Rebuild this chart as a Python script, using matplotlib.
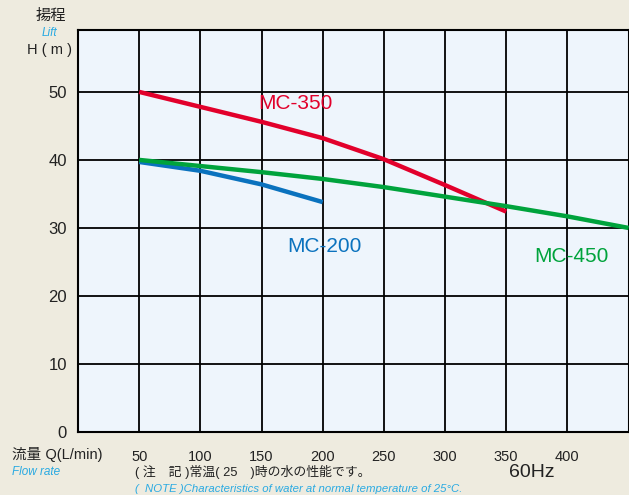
import matplotlib.pyplot as plt

plt.rcParams['font.family'] = ['Liberation Sans', 'Noto Sans CJK JP', 'DejaVu Sans']

# pump curves
mc350_q = [50, 100, 150, 200, 250, 300, 350]
mc350_h = [50.0, 47.8, 45.6, 43.2, 40.1, 36.3, 32.4]

mc200_q = [50, 100, 150, 200]
mc200_h = [39.7, 38.4, 36.4, 33.8]

mc450_q = [50, 100, 150, 200, 250, 300, 350, 400, 450]
mc450_h = [40.0, 39.1, 38.2, 37.2, 36.0, 34.6, 33.2, 31.7, 30.0]

x_ticks = [50, 100, 150, 200, 250, 300, 350, 400]
y_ticks = [0, 10, 20, 30, 40, 50]

fig = plt.figure(figsize=(6.29, 4.95), dpi=100, facecolor='#EEEBDF')
ax = fig.add_axes([0.124, 0.1273, 0.8753, 0.8121], facecolor='#EEF5FC')

ax.set_xlim(0, 450)
ax.set_ylim(0, 59.1)
ax.set_xticks(x_ticks)
ax.set_yticks(y_ticks)
ax.grid(True, color='black', linewidth=1.3)
ax.set_axisbelow(True)
for s in ax.spines.values():
    s.set_color('black')
    s.set_linewidth(1.5)
ax.tick_params(length=0, labelsize=12, colors='#222222')
ax.tick_params(axis='x', pad=13, labelsize=10.5)
ax.tick_params(axis='y', pad=8)

ax.plot(mc350_q, mc350_h, color='#E2002B', lw=3.2, solid_capstyle='butt', zorder=3)
ax.plot(mc200_q, mc200_h, color='#0A72BE', lw=3.2, solid_capstyle='butt', zorder=3)
ax.plot(mc450_q, mc450_h, color='#00A33C', lw=3.2, solid_capstyle='butt', zorder=4, clip_on=False)

ax.text(147, 48.3, 'MC-350', color='#E2002B', fontsize=15, ha='left', va='center')
ax.text(171, 27.3, 'MC-200', color='#0A72BE', fontsize=15, ha='left', va='center')
ax.text(373, 25.8, 'MC-450', color='#00A33C', fontsize=15, ha='left', va='center')

fig.text(0.081, 0.967, '揚程', fontsize=11, ha='center', va='center', color='#222222')
fig.text(0.078, 0.934, 'Lift', fontsize=8.5, style='italic', ha='center', va='center', color='#2AAAE2')
fig.text(0.079, 0.899, 'H ( m )', fontsize=10.5, ha='center', va='center', color='#222222')

fig.text(0.019, 0.081, '流量 Q(L/min)', fontsize=10.5, ha='left', va='center', color='#222222')
fig.text(0.019, 0.047, 'Flow rate', fontsize=8.5, style='italic', ha='left', va='center', color='#2AAAE2')

fig.text(0.214, 0.047, '( 注　記 )常温( 25　)時の水の性能です。', fontsize=9.3, ha='left', va='center', color='#222222')
fig.text(0.214, 0.012, '(  NOTE )Characteristics of water at normal temperature of 25°C.', fontsize=8.2,
         style='italic', ha='left', va='center', color='#2AAAE2')
fig.text(0.846, 0.046, '60Hz', fontsize=14, ha='center', va='center', color='#222222')

fig.savefig('out.png', dpi=100, facecolor=fig.get_facecolor())
